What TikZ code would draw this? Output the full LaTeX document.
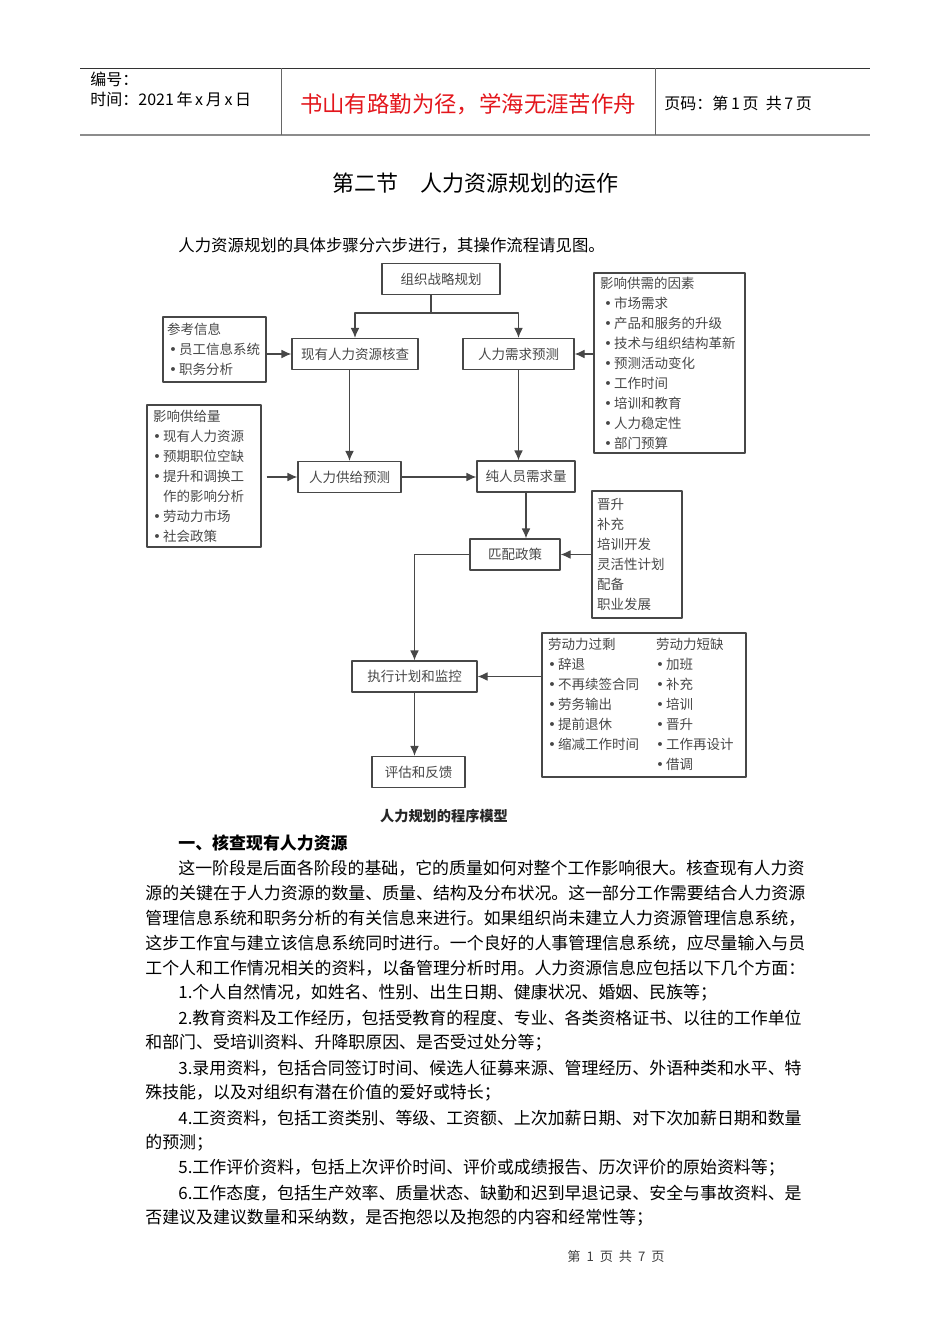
\documentclass[tikz,border=0pt]{standalone}
\usepackage{fontspec}
\setmainfont{Noto Sans CJK SC}
\newfontfamily\symfont{DejaVu Sans}
\usetikzlibrary{arrows.meta}
\definecolor{scan}{HTML}{474747}
\definecolor{headred}{HTML}{E3161C}
\newcommand{\bul}{\makebox[5pt][l]{\symfont\textbullet}}

\begin{document}
\begin{tikzpicture}[x=0.5pt,y=-0.5pt,>={Latex[length=5pt,width=4.4pt]},line join=round,
	box/.style={draw=scan,line width=0.6pt,text=scan,font=\fontsize{6.75}{10}\selectfont,inner sep=0pt,minimum height=15.5pt},
	list/.style={box,align=left,inner xsep=3pt},
	link/.style={draw=scan,line width=0.6pt,->},
	txt/.style={anchor=west,inner sep=0pt},
	body/.style={txt,font=\fontsize{8.46}{10}\selectfont}]
	\useasboundingbox (0,0) rectangle (950,1344);
	% header table
	\draw[black!80,line width=0.5pt] (80,68) -- (870,68);
	\draw[black!45,line width=1pt] (80,135) -- (870,135);
	\draw[black!60,line width=0.5pt] (281,68) -- (281,135) (655,68) -- (655,135);
	\node[txt,font=\fontsize{8}{9}\selectfont] (serial) at (90,79) {编号：};
	\node[txt,font=\fontsize{8}{9}\selectfont] (date) at (90,99) {时间：2021\,年\,x\,月\,x\,日};
	\node[text=headred,font=\fontsize{11.2}{13}\selectfont] (motto) at (468,104) {书山有路勤为径，学海无涯苦作舟};
	\node[txt,font=\fontsize{8}{9}\selectfont] (pageno) at (664,103) {页码：第\,1\,页\ \ 共\,7\,页};
	% title and intro
	\node[font=\fontsize{11}{13}\selectfont] (title) at (475,183) {第二节　人力资源规划的运作};
	\node[txt,font=\fontsize{8.2}{10}\selectfont] (intro) at (178,245) {人力资源规划的具体步骤分六步进行，其操作流程请见图。};
	% flow chart
	\node[box,minimum width=59pt] (org) at (441,279) {组织战略规划};
	\node[box,minimum width=63pt] (cur) at (355,354) {现有人力资源核查};
	\node[box,minimum width=55.5pt] (dem) at (518.5,354) {人力需求预测};
	\node[box,minimum width=51.5pt] (sup) at (349.5,477) {人力供给预测};
	\node[box,minimum width=49pt] (net) at (526,476.5) {纯人员需求量};
	\node[box,minimum width=45pt] (match) at (515,554.5) {匹配政策};
	\node[box,minimum width=62.5pt] (exec) at (414.5,676.5) {执行计划和监控};
	\node[box,minimum width=46.5pt] (eval) at (418.5,772) {评估和反馈};
	\node[list,inner xsep=2pt,text width=47.5pt,minimum height=32.5pt] (ref) at (214.5,349.5)
		{参考信息\\ \hspace{1pt}\bul 员工信息系统\\ \hspace{1pt}\bul 职务分析};
	\node[list,text width=51pt,minimum height=71pt] (supf) at (204,476)
		{影响供给量\\ \bul 现有人力资源\\ \bul 预期职位空缺\\ \bul 提升和调换工\\ \phantom{\bul}作的影响分析\\ \bul 劳动力市场\\ \bul 社会政策};
	\node[list,text width=69.5pt,minimum height=90pt] (fac) at (669.5,363)
		{影响供需的因素\\ \hspace{2pt}\bul 市场需求\\ \hspace{2pt}\bul 产品和服务的升级\\ \hspace{2pt}\bul 技术与组织结构革新\\ \hspace{2pt}\bul 预测活动变化\\ \hspace{2pt}\bul 工作时间\\ \hspace{2pt}\bul 培训和教育\\ \hspace{2pt}\bul 人力稳定性\\ \hspace{2pt}\bul 部门预算};
	\node[list,text width=40pt,minimum height=63.5pt,inner xsep=2.5pt] (pol) at (637,554.5)
		{晋升\\ 补充\\ 培训开发\\ 灵活性计划\\ 配备\\ 职业发展};
	\node[box,inner xsep=3pt,minimum height=72pt] (lab) at (644,705)
		{\begin{tabular}{@{}p{54pt}@{}p{42pt}@{}}
			劳动力过剩 & 劳动力短缺\\
			\bul 辞退 & \bul 加班\\
			\bul 不再续签合同 & \bul 补充\\
			\bul 劳务输出 & \bul 培训\\
			\bul 提前退休 & \bul 晋升\\
			\bul 缩减工作时间 & \bul 工作再设计\\
			& \bul 借调
		\end{tabular}};
	\coordinate (split) at (431,313);
	\draw[link,-] (split |- org.south) -- (split);
	\draw[link] (split) -| (cur.north);
	\draw[link] (split) -| (dem.north);
	\draw[link] (ref.east |- cur.west) -- (cur.west);
	\draw[link] (fac.west |- dem.east) -- (dem.east);
	\draw[link] (sup.north |- cur.south) -- (sup.north);
	\draw[link] (dem.south) -- (dem.south |- net.north);
	\draw[link] ([xshift=2.5pt]supf.east |- sup.west) -- (sup.west);
	\draw[link] (sup.east) -- (sup.east -| net.west);
	\draw[link] (net.south) -- (net.south |- match.north);
	\draw[link] (pol.west |- match.east) -- (match.east);
	\draw[link] (match.west) -| (exec.north);
	\draw[link] (lab.west |- exec.east) -- (exec.east);
	\draw[link] (exec.south) -- (exec.south |- eval.north);
	\node[font=\bfseries\fontsize{7.1}{9}\selectfont,text=black!85] (caption) at (444,816) {人力规划的程序模型};
	% body text
	\node[body,font=\bfseries\fontsize{8.46}{10}\selectfont] (head) at (178,843) {一、核查现有人力资源};
	\foreach \x/\y/\t in {
		178/868/这一阶段是后面各阶段的基础，它的质量如何对整个工作影响很大。核查现有人力资,
		145/893/源的关键在于人力资源的数量、质量、结构及分布状况。这一部分工作需要结合人力资源,
		145/918/管理信息系统和职务分析的有关信息来进行。如果组织尚未建立人力资源管理信息系统，,
		145/943/这步工作宜与建立该信息系统同时进行。一个良好的人事管理信息系统，应尽量输入与员,
		145/968/工个人和工作情况相关的资料，以备管理分析时用。人力资源信息应包括以下几个方面：,
		178/993/1.个人自然情况，如姓名、性别、出生日期、健康状况、婚姻、民族等；,
		178/1018/2.教育资料及工作经历，包括受教育的程度、专业、各类资格证书、以往的工作单位,
		145/1043/和部门、受培训资料、升降职原因、是否受过处分等；,
		178/1068/3.录用资料，包括合同签订时间、候选人征募来源、管理经历、外语种类和水平、特,
		145/1093/殊技能，以及对组织有潜在价值的爱好或特长；,
		178/1118/4.工资资料，包括工资类别、等级、工资额、上次加薪日期、对下次加薪日期和数量,
		145/1143/的预测；,
		178/1168/5.工作评价资料，包括上次评价时间、评价或成绩报告、历次评价的原始资料等；,
		178/1193/6.工作态度，包括生产效率、质量状态、缺勤和迟到早退记录、安全与事故资料、是,
		145/1218/否建议及建议数量和采纳数，是否抱怨以及抱怨的内容和经常性等；}
		\node[body] (line\y) at (\x,\y) {\t};
	\node[font=\fontsize{6.6}{8}\selectfont,text=black!75] (foot) at (616,1256) {第\ \ 1\ \ 页\ \ 共\ \ 7\ \ 页};
\end{tikzpicture}
\end{document}
